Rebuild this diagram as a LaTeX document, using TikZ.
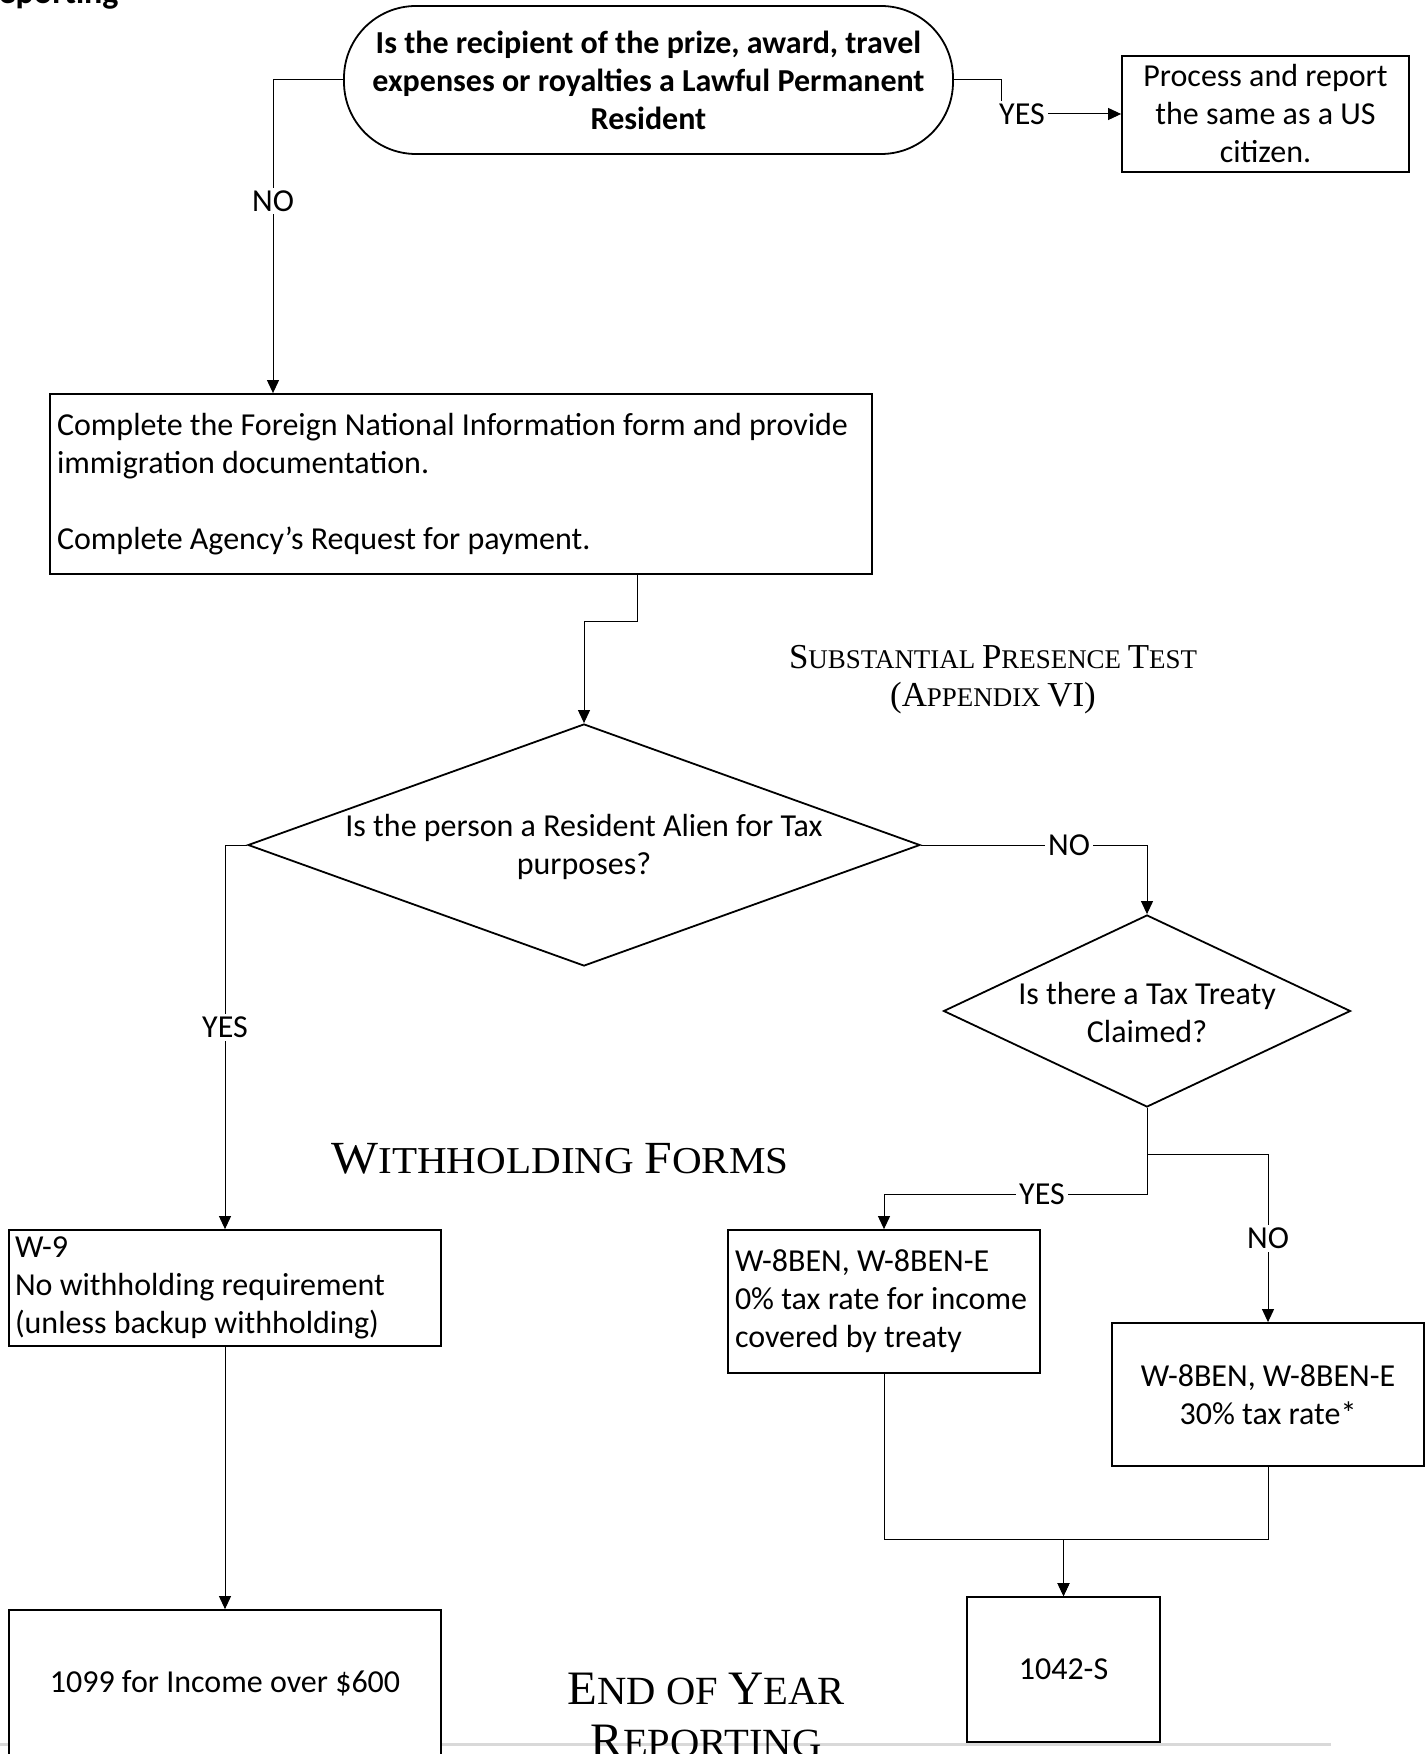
\documentclass[tikz,border=0pt]{standalone}
\usepackage{fontspec}
\usepackage{graphicx}
\newfontfamily\bodyfont{Carlito}
\newfontfamily\headfont{Liberation Serif}
\usetikzlibrary{arrows.meta,shapes.geometric}

% hand-made small capitals: first argument in the large size \scbig,
% second argument in the surrounding (small) size
\newcommand\scbig{17}
\newcommand\hsc[2]{{\fontsize{\scbig}{\scbig}\selectfont #1}#2}
% natural word spacing inside left-aligned boxes
\newcommand\natspace{\spaceskip=0pt\xspaceskip=0pt\relax}

\tikzset{
  every node/.style={font=\bodyfont\fontsize{16}{19}\selectfont},
  box/.style={draw, line width=0.9pt, fill=white, inner sep=0pt},
  leftbox/.style={box, align=left, inner xsep=3.5pt},
  midbox/.style={box, align=center},
  decision/.style={draw, diamond, line width=0.9pt, inner sep=0pt},
  conn/.style={draw, line width=0.5pt},
  arr/.style={conn, -{Triangle[length=6.5pt,width=6pt]}},
  lbl/.style={fill=white, inner sep=1.5pt},
  heading/.style={font=\headfont, inner sep=0pt}
}

\begin{document}
\begin{tikzpicture}[x=0.5pt, y=-0.5pt]
\useasboundingbox (0,0) rectangle (1427,1754);

% page rule along the bottom
\draw[line width=1.5pt, black!15] (0,1744) -- (1331,1744);

% page heading at the top left
\node[font=\bodyfont\bfseries\fontsize{17}{20}\selectfont, anchor=base east, inner sep=0pt] (rep) at (119,4) {Reporting};

% first question
\node[draw, line width=0.9pt, rounded corners=36pt, minimum width=304.5pt, minimum height=74pt,
      inner sep=0pt, align=center, font=\bodyfont\bfseries\fontsize{16}{19}\selectfont]
  (term) at (648.5,80) {Is the recipient of the prize, award, travel\\expenses or royalties a Lawful Permanent\\Resident};

\node[midbox, minimum width=143.5pt, minimum height=58pt] (proc) at (1265.5,114)
  {Process and report\\the same as a US\\citizen.};

\node[leftbox, text width=404pt, minimum height=90pt] (fni) at (461,484)
  {\natspace Complete the Foreign National Information form and provide\\immigration documentation.\\[19pt]Complete Agency’s Request for payment.};

\node[heading] (spt) at (993,680)
  {\renewcommand\scbig{17.5}\resizebox{204pt}{\height}{\fontsize{13.5}{19}\selectfont
   \begin{tabular}{@{}c@{}}\hsc{S}{UBSTANTIAL} \hsc{P}{RESENCE} \hsc{T}{EST}\\
   \hsc{(A}{PPENDIX} \hsc{VI)}{}\end{tabular}}};

% decisions
\node[decision, minimum width=336pt, minimum height=121pt] (d1) at (584,845) {};
\node[align=center] (d1t) at (584,847) {Is the person a Resident Alien for Tax\\purposes?};

\node[decision, minimum width=203.5pt, minimum height=96pt] (d2) at (1147,1011) {};
\node[align=center] (d2t) at (1147,1012) {Is there a Tax Treaty\\Claimed?};

\node[heading] (wf) at (560,1159)
  {\renewcommand\scbig{23}\resizebox{228.5pt}{\height}{\fontsize{19}{19}\selectfont
   \hsc{W}{ITHHOLDING} \hsc{F}{ORMS}}};

% withholding forms
\node[leftbox, text width=210pt, minimum height=58pt, inner xsep=3pt] (w9) at (225,1288)
  {\natspace W-9\\No withholding requirement\\(unless backup withholding)};

\node[leftbox, text width=149pt, minimum height=71.5pt] (w8t) at (884,1301.5)
  {\natspace W-8BEN, W-8BEN-E\\0\% tax rate for income\\covered by treaty};

\node[midbox, minimum width=156pt, minimum height=71.5pt] (w8n) at (1268,1394.5)
  {W-8BEN, W-8BEN-E\\30\% tax rate*};

% end of year reporting
\node[midbox, minimum width=216pt, minimum height=73pt] (f1099) at (225,1683)
  {1099 for Income over \$600};

\node[midbox, minimum width=96.5pt, minimum height=72.5pt] (f1042) at (1063.5,1669.5) {1042-S};

\node[heading] (eoy) at (706,1720)
  {\renewcommand\scbig{24}\resizebox{138.5pt}{\height}{\fontsize{20}{26}\selectfont
   \begin{tabular}{@{}c@{}}\hsc{E}{ND OF} \hsc{Y}{EAR}\\ \hsc{R}{EPORTING}\end{tabular}}};

% bend points
\coordinate (xno) at (273,0);
\coordinate (cyes) at (1001,114);

% connectors
\draw[arr] (term.west) -| (xno |- fni.north);
\node[lbl] (lno1) at (273,201) {NO};

\draw[arr] (term.east) -| (cyes) -- (proc.west);
\node[lbl] (lyes1) at (1022,114) {YES};

\draw[arr] ([xshift=-117.5pt]fni.south east) -- ++(0,47) -| (d1.north);

\draw[arr] (d1.west) -| (w9.north);
\node[lbl] (lyes2) at (225,1027) {YES};

\draw[arr] (d1.east) -| (d2.north);
\node[lbl] (lno2) at (1069,845) {NO};

\draw[arr] (d2.south) -- ++(0,87) -| (w8t.north);
\node[lbl] (lyes3) at (1042,1194) {YES};

\draw[arr] (d2.south) -- ++(0,47) -| (w8n.north);
\node[lbl] (lno3) at (1268,1238) {NO};

\draw[arr] (w9.south) -- (f1099.north);
\draw[arr] (w8t.south) -- ++(0,166) -| (f1042.north);
\draw[arr] (w8n.south) -- ++(0,73) -| (f1042.north);

\end{tikzpicture}
\end{document}
